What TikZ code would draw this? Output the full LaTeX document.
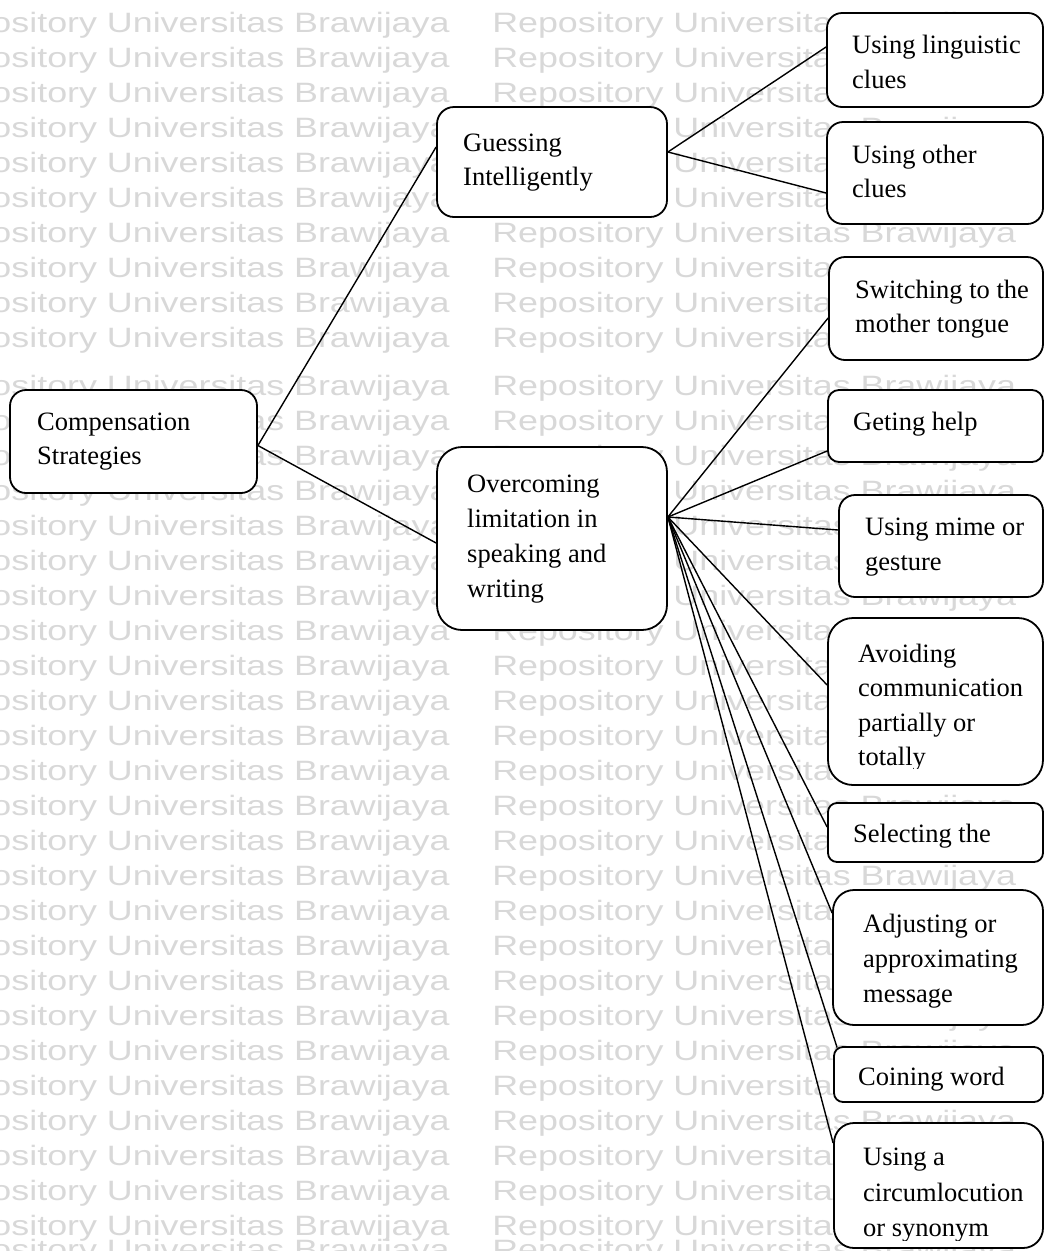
\documentclass[tikz,border=0pt]{standalone}
\usepackage{fontspec}
\setmainfont{Liberation Serif}
\newfontfamily\wmfont{Liberation Sans}
\usetikzlibrary{fit}
\definecolor{wmgray}{RGB}{216,216,216}
\begin{document}
\begin{tikzpicture}[x=1pt,y=-1pt,
  box/.style={draw=black, line width=1.8pt, fill=white, inner sep=0pt},
  txt/.style={anchor=base west, inner sep=0pt, font=\fontsize{26.5}{35}\selectfont},
  wm/.style={anchor=base west, inner sep=0pt, font=\wmfont\fontsize{28}{28}\selectfont, text=wmgray, xscale=1.28},
  conn/.style={line width=1.4pt}]
\useasboundingbox (0,0) rectangle (1045,1251);
\clip (0,0) rectangle (1045,1251);
% watermark
\foreach \y [count=\k] in {32,67,102,137,172,207,242,277,312,347,395,430,465,500,535,570,605,640,675,710,745,780,815,850,885,920,955,990,1025,1060,1095,1130,1165,1200,1235,1259} {
  \node[wm] (wmA\k) at (-74.5, \y) {Repository Universitas Brawijaya};
  \node[wm] (wmB\k) at (492, \y) {Repository Universitas Brawijaya};
}
% boxes
\node[box, rounded corners=16pt, fit={(10,390)(257,493)}] (comp) {};
\node[box, rounded corners=17pt, fit={(437,107)(667,217)}] (guess) {};
\node[box, rounded corners=25pt, fit={(437,447)(667,630)}] (over) {};
\node[box, rounded corners=15pt, fit={(827,13)(1043,107)}] (ling) {};
\node[box, rounded corners=16pt, fit={(827,122)(1043,224)}] (other) {};
\node[box, rounded corners=16pt, fit={(829,257)(1043,360)}] (switch) {};
\node[box, rounded corners=11pt, fit={(828,390)(1043,462)}] (help) {};
\node[box, rounded corners=16pt, fit={(839,495)(1043,597)}] (mime) {};
\node[box, rounded corners=25pt, fit={(828,618)(1043,785)}] (avoid) {};
\node[box, rounded corners=9pt, fit={(828,803)(1043,862)}] (select) {};
\node[box, rounded corners=21pt, fit={(833,890)(1043,1025)}] (adjust) {};
\node[box, rounded corners=9pt, fit={(834,1047)(1043,1102)}] (coin) {};
\node[box, rounded corners=20pt, fit={(834,1123)(1043,1248)}] (circ) {};
% texts
\node[txt] (comp1) at (37,430) {Compensation};
\node[txt] (comp2) at (37,464) {Strategies};
\node[txt] (guess1) at (463,151) {Guessing};
\node[txt] (guess2) at (463,185) {Intelligently};
\node[txt] (over1) at (467,492) {Overcoming};
\node[txt] (over2) at (467,527) {limitation in};
\node[txt] (over3) at (467,562) {speaking and};
\node[txt] (over4) at (467,597) {writing};
\node[txt] (ling1) at (852,53) {Using linguistic};
\node[txt] (ling2) at (852,88) {clues};
\node[txt] (other1) at (852,163) {Using other};
\node[txt] (other2) at (852,197) {clues};
\node[txt] (switch1) at (855,298) {Switching to the};
\node[txt] (switch2) at (855,332) {mother tongue};
\node[txt] (help1) at (853,430) {Geting help};
\node[txt] (mime1) at (865,535) {Using mime or};
\node[txt] (mime2) at (865,570) {gesture};
\node[txt] (avoid1) at (858,662) {Avoiding};
\node[txt] (avoid2) at (858,696) {communication};
\node[txt] (avoid3) at (858,731) {partially or};
\begin{scope}
  \clip (828,618) rectangle (1043,768);
  \node[txt] (avoid4) at (858,765) {totally};
\end{scope}
\node[txt] (select1) at (853,842) {Selecting the};
\node[txt] (adjust1) at (863,932) {Adjusting or};
\node[txt] (adjust2) at (863,967) {approximating};
\node[txt] (adjust3) at (863,1002) {message};
\node[txt] (coin1) at (858,1085) {Coining word};
\node[txt] (circ1) at (863,1165) {Using a};
\node[txt] (circ2) at (863,1201) {circumlocution};
\begin{scope}
  \clip (834,1123) rectangle (1043,1240);
  \node[txt] (circ3) at (863,1236) {or synonym};
\end{scope}
% connectors
\draw[conn] ([yshift=-4pt]comp.east) -- ([yshift=15pt]guess.west);
\draw[conn] ([yshift=-4pt]comp.east) -- ([yshift=-4.5pt]over.west);
\draw[conn] ([yshift=10pt]guess.east) -- ([yshift=13pt]ling.west);
\draw[conn] ([yshift=10pt]guess.east) -- ([yshift=-20pt]other.west);
\draw[conn] ([yshift=21.5pt]over.east) -- ([yshift=-9.5pt]switch.west);
\draw[conn] ([yshift=21.5pt]over.east) -- ([yshift=-25pt]help.west);
\draw[conn] ([yshift=21.5pt]over.east) -- ([yshift=16pt]mime.west);
\draw[conn] ([yshift=21.5pt]over.east) -- ([yshift=16.5pt]avoid.west);
\draw[conn] ([yshift=21.5pt]over.east) -- ([yshift=5.5pt]select.west);
\draw[conn] ([yshift=21.5pt]over.east) -- ([yshift=44.5pt]adjust.west);
\draw[conn] ([yshift=21.5pt]over.east) -- ([shift={(4pt,-1.5pt)}]coin.north west);
\draw[conn] ([yshift=21.5pt]over.east) -- ([yshift=42.5pt]circ.west);
\end{tikzpicture}
\end{document}
